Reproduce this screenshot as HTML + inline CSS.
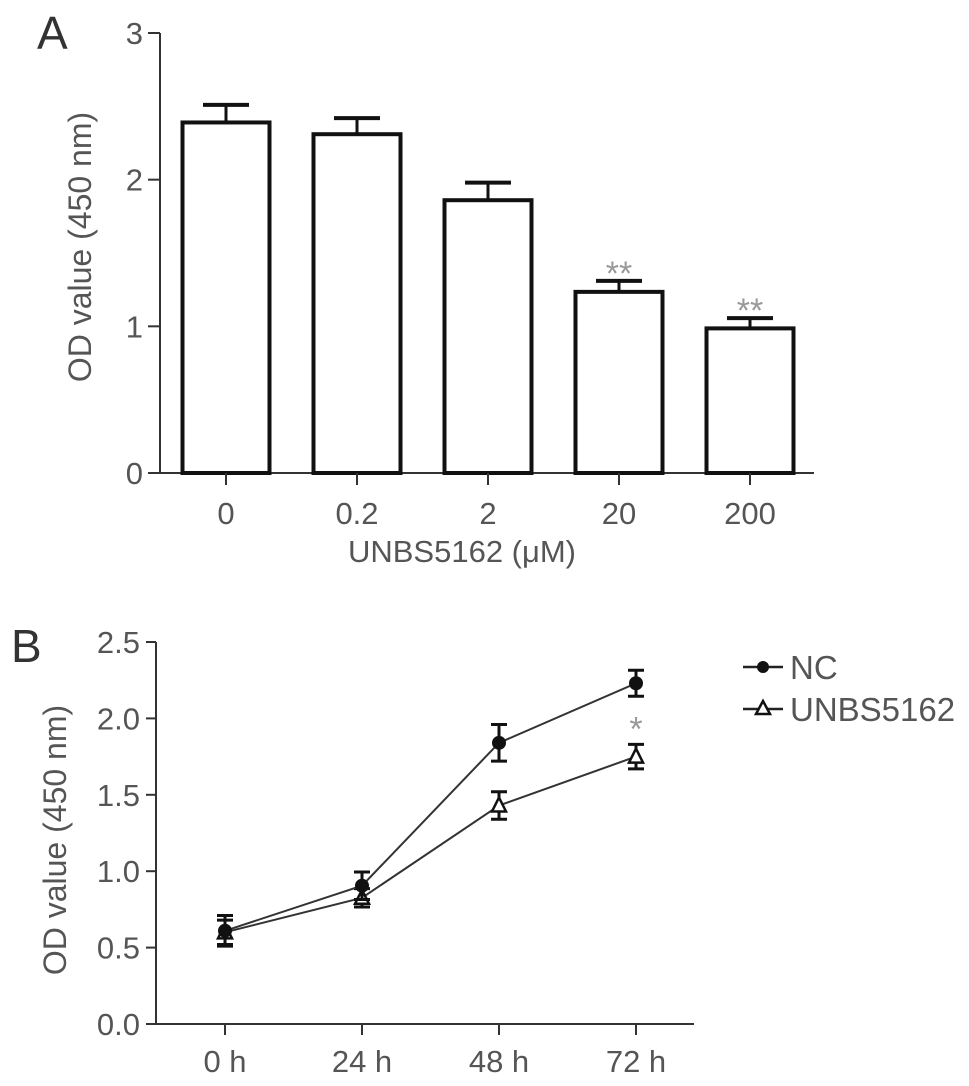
<!DOCTYPE html>
<html><head><meta charset="utf-8"><style>
html,body{margin:0;padding:0;background:#fff;}
svg{display:block;font-family:"Liberation Sans",Arial,sans-serif;}
</style></head><body>
<svg id="fig" width="969" height="1086" viewBox="0 0 969 1086" xmlns="http://www.w3.org/2000/svg">
<text x="37" y="49" font-size="46" fill="#333">A</text>
<text x="11" y="662" font-size="46" fill="#333">B</text>
<g id="chartA"></g>
<g id="chartB"></g>
</svg>
<script>
// Panel A data
const aCategories = ["0","0.2","2","20","200"];
const aValues = [2.39, 2.31, 1.86, 1.235, 0.986];
const aErrors = [0.12, 0.11, 0.12, 0.075, 0.07];
const aStars = ["","","","**","**"];
const aTicks = [0,1,2,3];
// Panel B data
const bCategories = ["0 h","24 h","48 h","72 h"];
const bNC = [0.61, 0.905, 1.84, 2.23];
const bNCerr = [0.1, 0.09, 0.12, 0.085];
const bUN = [0.60, 0.826, 1.43, 1.75];
const bUNerr = [0.08, 0.06, 0.09, 0.08];
const bStars = ["","","","*"];
const bTicks = [0,0.5,1.0,1.5,2.0,2.5];

const NS="http://www.w3.org/2000/svg";
function mk(parent,tag,attrs,text){const e=document.createElementNS(NS,tag);for(const k in attrs)e.setAttribute(k,attrs[k]);if(text!==undefined)e.textContent=text;parent.appendChild(e);return e;}

// ---- Panel A ----
(function(){
const g=document.getElementById('chartA');
const x0=160,y0=473,yTop=33,xEnd=814;
const yA=v=>y0-(v/3)*(y0-yTop);
const step=131,first=226,bw=87;
const xA=i=>first+i*step;
let e;
e=mk(g,'line',{x1:x0,y1:yTop,x2:x0,y2:y0,stroke:'#333','stroke-width':2});


e=mk(g,'line',{x1:x0-12,y1:y0,x2:xEnd,y2:y0,stroke:'#333','stroke-width':2});


aTicks.forEach(t=>{
 const y=yA(t);
 e=mk(g,'line',{x1:x0-12,y1:y,x2:x0,y2:y,stroke:'#333','stroke-width':2});
 
 
 e=mk(g,'text',{x:x0-17,y:y+11,'font-size':31,fill:'#555','text-anchor':'end'},String(t));
 
 
});
aCategories.forEach((c,i)=>{
 const cx=xA(i),v=aValues[i],er=aErrors[i];
 e=mk(g,'line',{x1:cx,y1:yA(v),x2:cx,y2:yA(v+er),stroke:'#111','stroke-width':3});
 
 
 e=mk(g,'line',{x1:cx-23,y1:yA(v+er),x2:cx+23,y2:yA(v+er),stroke:'#111','stroke-width':4});
 
 
 e=mk(g,'rect',{x:cx-bw/2,y:yA(v),width:bw,height:y0-yA(v),fill:'#fff',stroke:'#111','stroke-width':4});
 
 
 e=mk(g,'line',{x1:cx,y1:y0,x2:cx,y2:y0+12,stroke:'#333','stroke-width':2});
 
 
 e=mk(g,'text',{x:cx,y:524,'font-size':31,fill:'#555','text-anchor':'middle'},c);
 
 
 if(aStars[i]){
  e=mk(g,'text',{x:cx,y:yA(v+er)+4,'font-size':34,fill:'#999','text-anchor':'middle'},aStars[i]);
  
  
 }
});
e=mk(g,'text',{x:462,y:562,'font-size':31,fill:'#555','text-anchor':'middle'},'UNBS5162 (μM)');


e=mk(g,'text',{x:0,y:0,'font-size':32,fill:'#555','text-anchor':'middle',transform:'translate(91,247) rotate(-90)'},'OD value (450 nm)');


})();

// ---- Panel B ----
(function(){
const g=document.getElementById('chartB');
const x0=156,y0=1024,yTop=642,xEnd=694;
const yB=v=>y0-(v/2.5)*(y0-yTop);
const xB=i=>225+i*137;
let e;
e=mk(g,'line',{x1:x0,y1:yTop,x2:x0,y2:y0,stroke:'#333','stroke-width':2});


e=mk(g,'line',{x1:x0-10,y1:y0,x2:xEnd,y2:y0,stroke:'#333','stroke-width':2});


bTicks.forEach(t=>{
 const y=yB(t);
 e=mk(g,'line',{x1:x0-10,y1:y,x2:x0,y2:y,stroke:'#333','stroke-width':2});
 
 
 e=mk(g,'text',{x:x0-16,y:y+11,'font-size':31,fill:'#555','text-anchor':'end'},t.toFixed(1));
 
 
});
bCategories.forEach((c,i)=>{
 const cx=xB(i);
 e=mk(g,'line',{x1:cx,y1:y0,x2:cx,y2:y0+11,stroke:'#333','stroke-width':2});
 
 
 e=mk(g,'text',{x:cx,y:1072,'font-size':31,fill:'#555','text-anchor':'middle'},c);
 
 
});
function series(vals,errs,name,marker){
 const pts=vals.map((v,i)=>xB(i)+','+yB(v)).join(' ');
 let e=mk(g,'polyline',{points:pts,fill:'none',stroke:'#333','stroke-width':2});
 
 
 vals.forEach((v,i)=>{
  const cx=xB(i),er=errs[i];
  e=mk(g,'path',{d:`M${cx},${yB(v-er)}V${yB(v+er)}M${cx-8},${yB(v-er)}H${cx+8}M${cx-8},${yB(v+er)}H${cx+8}`,stroke:'#111','stroke-width':3,fill:'none'});
  
  
  const cy=yB(v);
  if(marker==='circle'){
   e=mk(g,'circle',{cx:cx,cy:cy,r:7,fill:'#111'});
  } else {
   e=mk(g,'polygon',{points:`${cx},${cy-8} ${cx-7},${cy+6} ${cx+7},${cy+6}`,fill:'#fff',stroke:'#111','stroke-width':2.5});
  }
  
  
 });
}
series(bUN,bUNerr,'unbs5162','triangle');
series(bNC,bNCerr,'nc','circle');
bStars.forEach((s,i)=>{
 if(!s)return;
 const cx=xB(i);
 const mid=(yB(bNC[i]-bNCerr[i])+yB(bUN[i]+bUNerr[i]))/2;
 e=mk(g,'text',{x:cx,y:mid+20,'font-size':34,fill:'#999','text-anchor':'middle'},s);
 
 
});
e=mk(g,'text',{x:0,y:0,'font-size':32,fill:'#555','text-anchor':'middle',transform:'translate(66,840) rotate(-90)'},'OD value (450 nm)');


// legend
e=mk(g,'line',{x1:743,y1:667,x2:783,y2:667,stroke:'#222','stroke-width':2.5});


e=mk(g,'circle',{cx:763,cy:667,r:6,fill:'#111'});


e=mk(g,'text',{x:790,y:679,'font-size':33,fill:'#555'},'NC');


e=mk(g,'line',{x1:743,y1:709,x2:783,y2:709,stroke:'#222','stroke-width':2.5});


e=mk(g,'polygon',{points:'763,701 756,714 770,714',fill:'#fff',stroke:'#111','stroke-width':2.5});


e=mk(g,'text',{x:790,y:721,'font-size':33,fill:'#555'},'UNBS5162');


})();
</script>
</body></html>
